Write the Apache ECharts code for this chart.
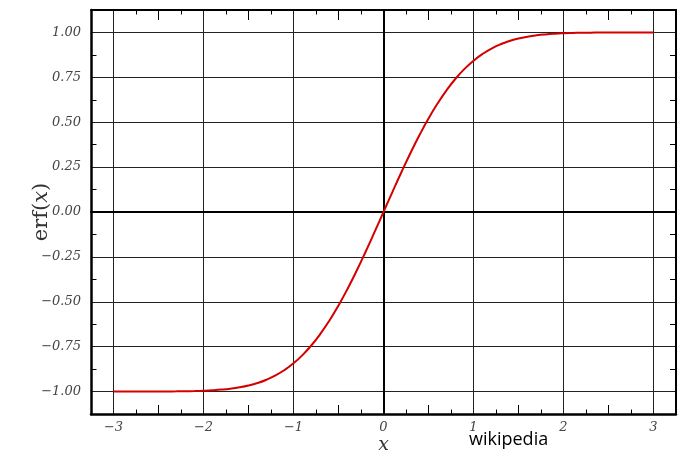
<!DOCTYPE html>
<html>
<head>
<meta charset="utf-8">
<script src="https://cdn.jsdelivr.net/npm/echarts@6/dist/echarts.min.js"></script>
<style>html,body{margin:0;padding:0;background:#fff;}#c{width:690px;height:455px;}</style>
</head>
<body>
<div id="c"></div>
<script>
// x sample points of the curve
const xValues = [-3.0,-2.9,-2.8,-2.7,-2.6,-2.5,-2.4,-2.3,-2.2,-2.1,-2.0,-1.9,-1.8,-1.7,-1.6,-1.5,-1.4,-1.3,-1.2,-1.1,-1.0,-0.9,-0.8,-0.7,-0.6,-0.5,-0.4,-0.3,-0.2,-0.1,0.0,0.1,0.2,0.3,0.4,0.5,0.6,0.7,0.8,0.9,1.0,1.1,1.2,1.3,1.4,1.5,1.6,1.7,1.8,1.9,2.0,2.1,2.2,2.3,2.4,2.5,2.6,2.7,2.8,2.9,3.0];
// erf(x) values read at those points
const erfValues = [-1.0000,-1.0000,-0.9999,-0.9999,-0.9998,-0.9996,-0.9993,-0.9989,-0.9981,-0.9970,-0.9953,-0.9928,-0.9891,-0.9838,-0.9763,-0.9661,-0.9523,-0.9340,-0.9103,-0.8802,-0.8427,-0.7969,-0.7421,-0.6778,-0.6039,-0.5205,-0.4284,-0.3286,-0.2227,-0.1125,0.0000,0.1125,0.2227,0.3286,0.4284,0.5205,0.6039,0.6778,0.7421,0.7969,0.8427,0.8802,0.9103,0.9340,0.9523,0.9661,0.9763,0.9838,0.9891,0.9928,0.9953,0.9970,0.9981,0.9989,0.9993,0.9996,0.9998,0.9999,0.9999,1.0000,1.0000];
// tick positions (x: every 0.25, y: every 0.125)
const xTicks = [-3.25,-3,-2.75,-2.5,-2.25,-2,-1.75,-1.5,-1.25,-1,-0.75,-0.5,-0.25,0,0.25,0.5,0.75,1,1.25,1.5,1.75,2,2.25,2.5,2.75,3,3.25];
const yTicks = [-1.125,-1,-0.875,-0.75,-0.625,-0.5,-0.375,-0.25,-0.125,0,0.125,0.25,0.375,0.5,0.625,0.75,0.875,1,1.125];
// tick labels
const xTickLabels = {'-3':'−3','-2':'−2','-1':'−1','0':'0','1':'1','2':'2','3':'3'};
const yTickLabels = {'-1':'−1.00','-0.75':'−0.75','-0.5':'−0.50','-0.25':'−0.25','0':'0.00','0.25':'0.25','0.5':'0.50','0.75':'0.75','1':'1.00'};

const xMin = -3.25, xMax = 3.25, yMin = -1.125, yMax = 1.125;
const isX = (i) => i > 0 && i < xTicks.length - 1;
const xInt = (i) => isX(i) && Number.isInteger(xTicks[i]);
const xHalf = (i) => isX(i) && !Number.isInteger(xTicks[i]) && Number.isInteger(xTicks[i] * 2);
const xQuarter = (i) => isX(i) && !Number.isInteger(xTicks[i] * 2);
const yIn = (i) => i > 0 && i < yTicks.length - 1;
const yMajor = (i) => yIn(i) && Number.isInteger(yTicks[i] * 4);
const yMinor = (i) => yIn(i) && !Number.isInteger(yTicks[i] * 4);

const labelFont = {fontFamily: 'DejaVu Serif', fontStyle: 'italic', fontSize: 13, color: '#444'};
const gridLine = {show: true, lineStyle: {color: '#222', width: 1}};

function catX(pos, lineW, tickLen, tickFn, withLabels) {
  return {
    type: 'category', position: pos, data: xTicks.map(String), boundaryGap: false,
    axisLine: {show: lineW > 0, onZero: false, lineStyle: {color: '#000', width: lineW}},
    axisTick: {show: true, inside: true, length: tickLen, interval: (i) => tickFn(i), lineStyle: {color: '#000', width: 1}},
    axisLabel: withLabels ? Object.assign({show: true, margin: 7, interval: (i) => xInt(i), formatter: (v) => xTickLabels[String(parseFloat(v))] || ''}, labelFont) : {show: false},
    splitLine: withLabels ? Object.assign({interval: (i) => xInt(i)}, gridLine) : {show: false}
  };
}
function catY(pos, lineW, tickLen, withLabels) {
  return {
    type: 'category', position: pos, data: yTicks.map(String), boundaryGap: false,
    axisLine: {show: true, onZero: false, lineStyle: {color: '#000', width: lineW}},
    axisTick: {show: true, inside: true, length: tickLen, interval: (i) => yMinor(i), lineStyle: {color: '#000', width: 1}},
    axisLabel: withLabels ? Object.assign({show: true, margin: 10, interval: (i) => yMajor(i), formatter: (v) => yTickLabels[String(parseFloat(v))] || ''}, labelFont) : {show: false},
    splitLine: withLabels ? Object.assign({interval: (i) => yMajor(i)}, gridLine) : {show: false}
  };
}

const chart = echarts.init(document.getElementById('c'), null, {renderer: 'canvas'});
const xAxes = [
  {type: 'value', min: xMin, max: xMax, axisLine: {show: true, onZero: true, lineStyle: {color: '#000', width: 2}}, axisTick: {show: false}, axisLabel: {show: false}, splitLine: {show: false}},
  Object.assign(catX('bottom', 2.5, 9, xHalf, true), {name: 'x', nameLocation: 'middle', nameGap: 22, nameMoveOverlap: false, nameTextStyle: {fontFamily: 'DejaVu Serif', fontStyle: 'italic', fontSize: 19, color: '#333'}}),
  catX('bottom', 0, 4.5, xQuarter, false),
  catX('top', 2, 10, xHalf, false),
  catX('top', 0, 4.5, xQuarter, false)
];
const yAxes = [
  {type: 'value', min: yMin, max: yMax, axisLine: {show: true, onZero: true, lineStyle: {color: '#000', width: 2}}, axisTick: {show: false}, axisLabel: {show: false}, splitLine: {show: false}},
  Object.assign(catY('left', 2.5, 5.5, true), {name: '{a|erf(}{b|x}{a|)}', nameLocation: 'middle', nameGap: 39, nameRotate: 90, nameMoveOverlap: false,
    nameTextStyle: {fontFamily: 'DejaVu Serif', fontSize: 21, color: '#333',
      rich: {a: {fontFamily: 'DejaVu Serif', fontSize: 21, color: '#333'}, b: {fontFamily: 'DejaVu Serif', fontStyle: 'italic', fontSize: 21, color: '#333'}}}}),
  catY('right', 2, 6, false)
];

chart.setOption({
  animation: false,
  backgroundColor: '#fff',
  grid: {left: 91, right: 14, top: 10, bottom: 41, containLabel: false, outerBoundsMode: 'none'},
  xAxis: xAxes,
  yAxis: yAxes,
  graphic: [{type: 'text', left: 469, top: 431, style: {text: 'wikipedia', fontFamily: 'Open Sans', fontSize: 18, fill: '#000'}}],
  series: [{
    type: 'line', xAxisIndex: 0, yAxisIndex: 0, z: 5,
    data: xValues.map((x, i) => [x, erfValues[i]]),
    showSymbol: false, smooth: true,
    lineStyle: {color: '#d40000', width: 2}
  }]
});
</script>
</body>
</html>
